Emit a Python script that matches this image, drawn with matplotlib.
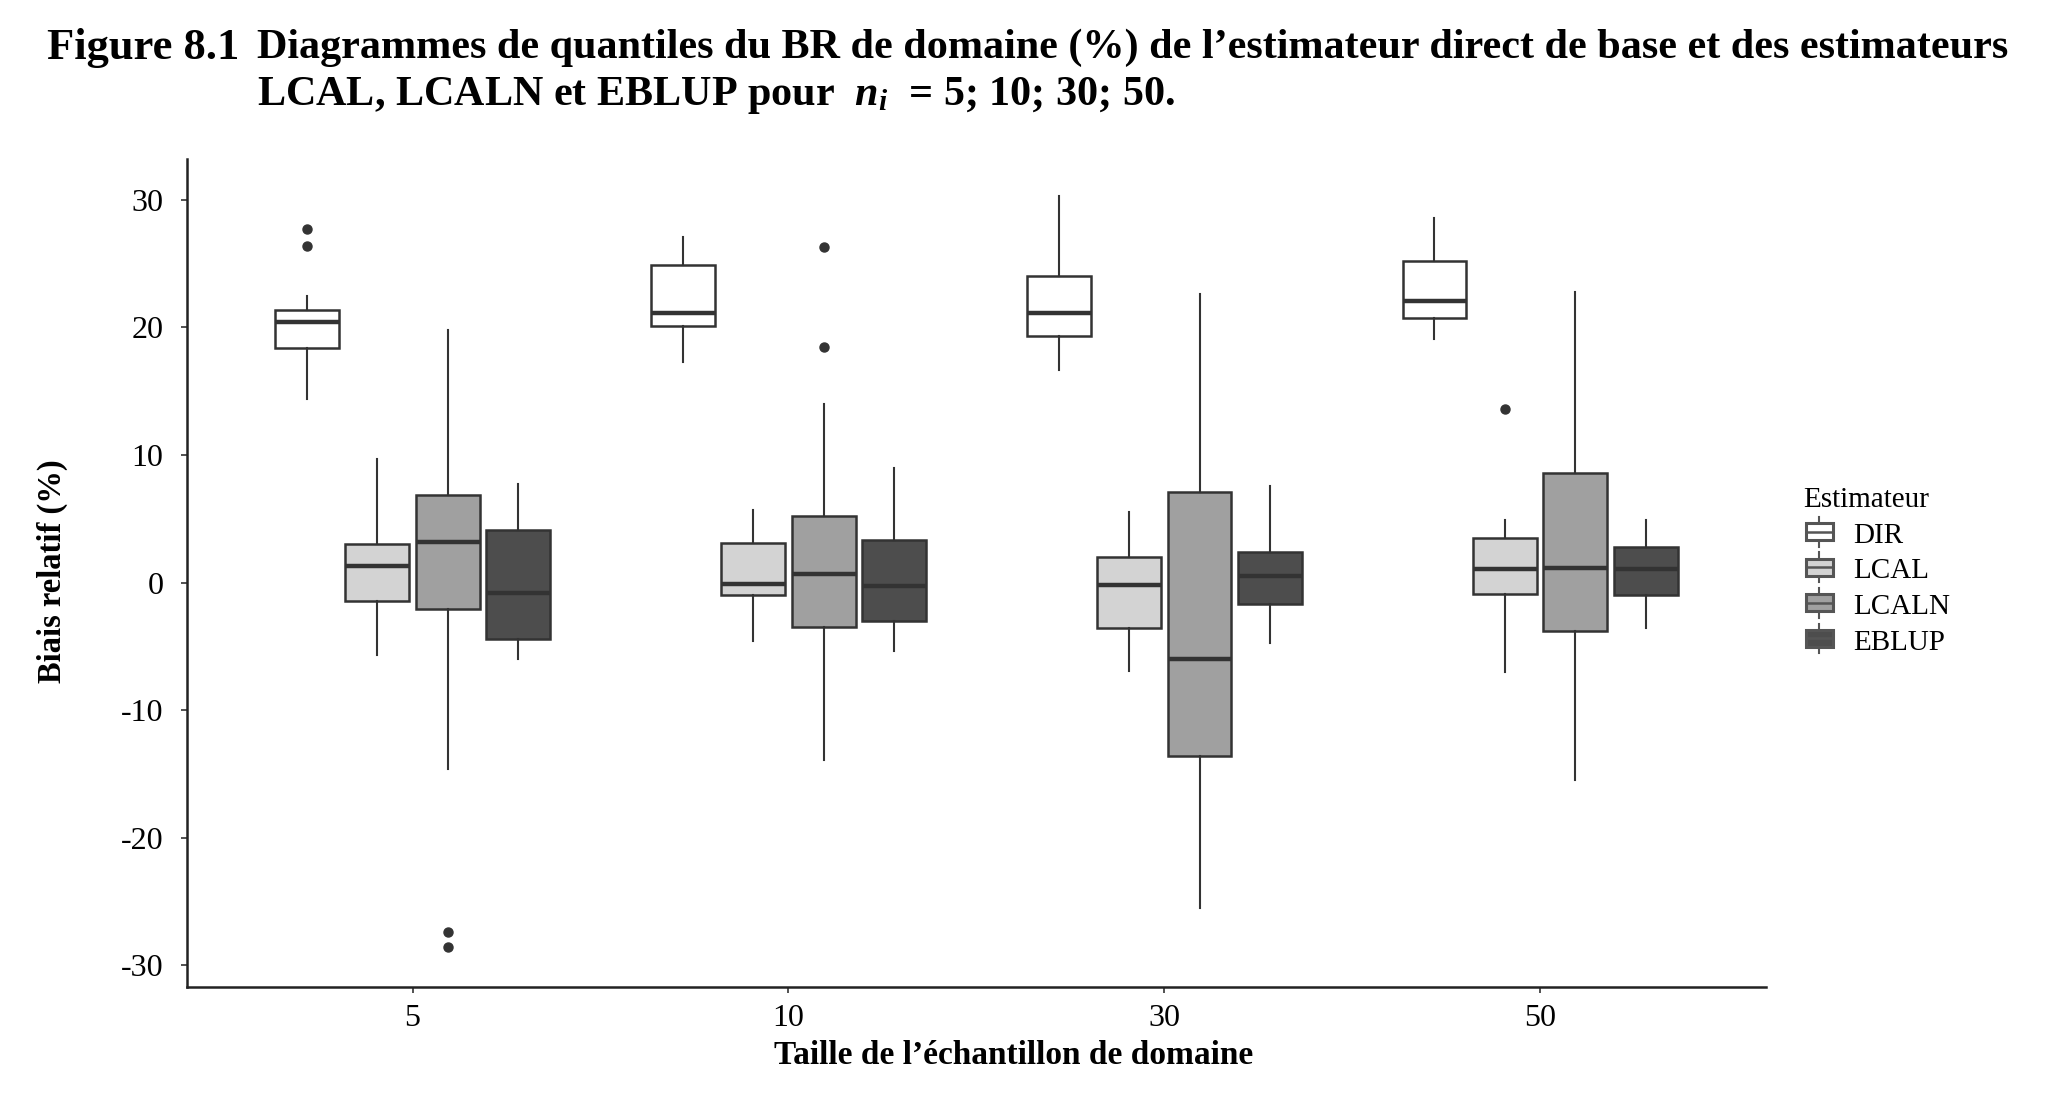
import matplotlib
matplotlib.use("Agg")
import matplotlib.pyplot as plt
from matplotlib.legend_handler import HandlerBase
from matplotlib.patches import Patch, Rectangle
from matplotlib.lines import Line2D

# sample sizes (x categories) and estimators (dodged boxes)
groups = ["5", "10", "30", "50"]
estimators = ["DIR", "LCAL", "LCALN", "EBLUP"]
fills = ["#ffffff", "#d3d3d3", "#a0a0a0", "#4d4d4d"]

# box statistics, one row per estimator, one column per group
whislo = [[14.4, 17.3, 16.7, 19.1],
          [-5.7, -4.6, -6.9, -7.0],
          [-14.6, -13.9, -25.5, -15.5],
          [-6.0, -5.4, -4.7, -3.6]]
q1 = [[18.4, 20.1, 19.3, 20.7],
      [-1.45, -1.0, -3.6, -0.9],
      [-2.1, -3.5, -13.6, -3.8],
      [-4.4, -3.0, -1.7, -1.0]]
med = [[20.4, 21.1, 21.1, 22.1],
       [1.3, -0.1, -0.2, 1.05],
       [3.2, 0.7, -6.0, 1.15],
       [-0.8, -0.3, 0.55, 1.05]]
q3 = [[21.4, 24.9, 24.0, 25.2],
      [3.0, 3.1, 2.0, 3.5],
      [6.9, 5.2, 7.1, 8.55],
      [4.1, 3.3, 2.4, 2.8]]
whishi = [[22.5, 27.1, 30.3, 28.6],
          [9.7, 5.7, 5.5, 4.9],
          [19.8, 14.0, 22.6, 22.8],
          [7.7, 9.0, 7.6, 4.9]]
outliers = [[[27.7, 26.4], [], [], []],
            [[], [], [], [13.6]],
            [[-27.4, -28.6], [26.3, 18.5], [], []],
            [[], [], [], []]]

yticks = [-30, -20, -10, 0, 10, 20, 30]

EDGE = "#333333"
plt.rcParams["font.family"] = ["Liberation Serif", "DejaVu Serif"]
plt.rcParams["mathtext.fontset"] = "custom"
plt.rcParams["mathtext.it"] = "Liberation Serif:italic:bold"
plt.rcParams["mathtext.rm"] = "Liberation Serif:bold"


class BoxKey(HandlerBase):
    def create_artists(self, legend, orig_handle, xd, yd, w, h, fontsize, trans):
        bw = 0.85 * w
        bh = 0.8 * h
        x0 = xd + (w - bw) / 2
        y0 = yd + (h - bh) / 2
        cx = xd + w / 2
        box = Rectangle((x0, y0), bw, bh, facecolor=orig_handle.get_facecolor(),
                        edgecolor="#555555", lw=2.2, transform=trans)
        mid = Line2D([x0, x0 + bw], [yd + h / 2] * 2, color="#555555", lw=1.8, transform=trans)
        up = Line2D([cx, cx], [y0 + bh, yd + h * 1.2], color="#555555", lw=1.5, transform=trans)
        dn = Line2D([cx, cx], [yd - h * 0.2, y0], color="#555555", lw=1.5, transform=trans)
        return [up, dn, box, mid]


fig = plt.figure(figsize=(20.46, 11.02), dpi=100)
ax = fig.add_axes([0.0914, 0.1044, 0.7716, 0.7513])

step = 0.1875
bw = 0.17
for e, name in enumerate(estimators):
    stats = []
    pos = []
    for g in range(len(groups)):
        stats.append(dict(whislo=whislo[e][g], q1=q1[e][g], med=med[e][g],
                          q3=q3[e][g], whishi=whishi[e][g], fliers=outliers[e][g]))
        pos.append(g + (e - 1.5) * step)
    ax.bxp(stats, positions=pos, widths=bw, patch_artist=True, showcaps=False,
           boxprops=dict(facecolor=fills[e], edgecolor=EDGE, lw=1.8),
           whiskerprops=dict(color=EDGE, lw=1.5),
           medianprops=dict(color=EDGE, lw=3.2),
           flierprops=dict(marker="o", markerfacecolor=EDGE, markeredgecolor=EDGE,
                           markersize=6.5, linestyle="none"),
           manage_ticks=False)

ax.set_xlim(-0.6, 3.6)
ax.set_ylim(-31.7, 33.2)
ax.set_xticks(range(len(groups)))
ax.set_xticklabels(groups)
ax.set_yticks(yticks)
ax.set_yticklabels([str(t) for t in yticks])
ax.tick_params(labelsize=23, colors="#333333", labelcolor="black", length=4, width=1.2, pad=8)
ax.tick_params(axis="y", pad=13)
for s in ["top", "right"]:
    ax.spines[s].set_visible(False)
for s in ["left", "bottom"]:
    ax.spines[s].set_color("#222222")
    ax.spines[s].set_linewidth(1.8)

fig.text(52 / 2046, 1 - 571 / 1102, "Biais relatif (%)", rotation=90, ha="center", va="center",
         fontsize=23.5, fontweight="bold")
fig.text(1014 / 2046, 1 - 1055 / 1102, "Taille de l\u2019\u00e9chantillon de domaine", ha="center",
         va="center", fontsize=24, fontweight="bold")

fig.text(47 / 2046, 1 - 48 / 1102, "Figure 8.1", ha="left", va="center", fontsize=32, fontweight="bold")
fig.text(257 / 2046, 1 - 48 / 1102,
         "Diagrammes de quantiles du BR de domaine (%) de l\u2019estimateur direct de base et des estimateurs",
         ha="left", va="center", fontsize=30.3, fontweight="bold")
fig.text(257 / 2046, 1 - 96 / 1102,
         r"LCAL, LCALN et EBLUP pour  $n_i$  = 5; 10; 30; 50.",
         ha="left", va="center", fontsize=30.3, fontweight="bold")

handles = [Patch(facecolor=c, label=n) for c, n in zip(fills, estimators)]
leg = fig.legend(handles=handles, loc="upper left", bbox_to_anchor=(1777 / 2046, 1 - 461 / 1102),
                 title="Estimateur", frameon=False, fontsize=21, title_fontsize=21,
                 handler_map={Patch: BoxKey()}, handlelength=1.1, handleheight=0.75,
                 handletextpad=0.6, labelspacing=0.3, alignment="left")

fig.savefig("out.png", dpi=100)
